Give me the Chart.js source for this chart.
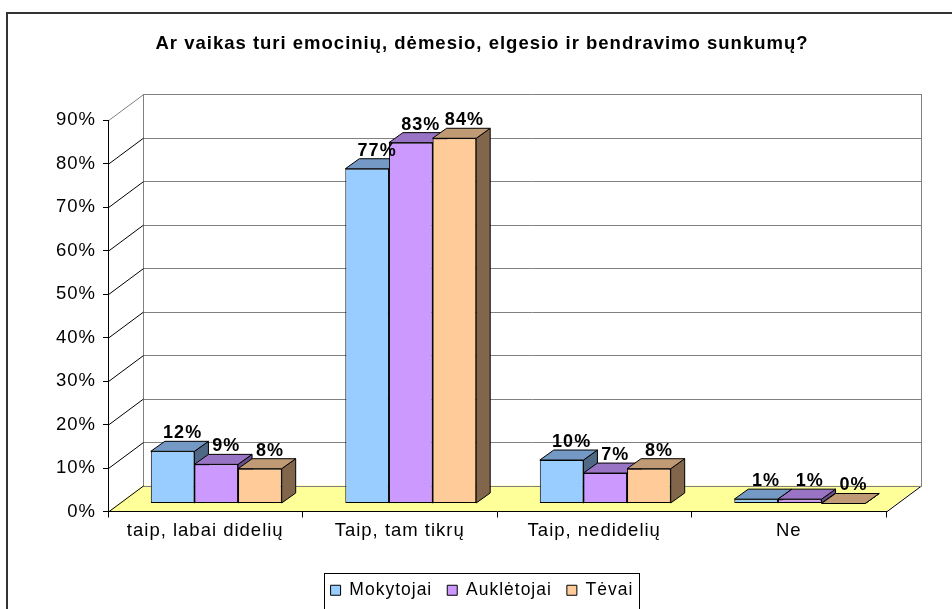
<!DOCTYPE html>
<html><head><meta charset="utf-8">
<script src="https://cdn.jsdelivr.net/npm/chart.js@4.4.1/dist/chart.umd.min.js"></script>
<style>
html,body{margin:0;padding:0;background:#fff;overflow:hidden;width:952px;height:609px}
#wrap{position:relative;width:952px;height:609px;overflow:hidden}
#frame{position:absolute;left:6px;top:12px;width:1000px;height:700px;border:2px solid #333;box-sizing:border-box;pointer-events:none;z-index:2}
canvas{position:absolute;left:0;top:0;z-index:1}
</style></head><body>
<div id="wrap"><div id="frame"></div><canvas id="c" width="952" height="609"></canvas></div>
<script>
// ---- data ----
const chartTitle = 'Ar vaikas turi emocinių, dėmesio, elgesio ir bendravimo sunkumų?';
const categories = ['taip, labai didelių', 'Taip, tam tikrų', 'Taip, nedidelių', 'Ne'];
const seriesNames = ['Mokytojai', 'Auklėtojai', 'Tėvai'];
const mokytojai = [12, 77, 10, 1];
const aukletojai = [9, 83, 7, 1];
const tevai = [8, 84, 8, 0];
const yTickValues = [0, 10, 20, 30, 40, 50, 60, 70, 80, 90];

// ---- styles ----
const FONT = 'Arial, "Liberation Sans", sans-serif';
const frontColors = ['#99CCFF', '#CC99FF', '#FFCC99'];
const topColors = ['#7399C4', '#9A74C4', '#C09A74'];
const sideColors = ['#4E6886', '#684E86', '#82664C'];
const WALL = {dx: 35, dy: -26};
const BAR = {ox: 11, oy: -8, dx: 14, dy: -10};

Chart.defaults.font.family = FONT;

function poly(ctx, pts) {
  ctx.beginPath();
  ctx.moveTo(pts[0][0], pts[0][1]);
  for (let i = 1; i < pts.length; i++) ctx.lineTo(pts[i][0], pts[i][1]);
  ctx.closePath();
}
function line(ctx, x1, y1, x2, y2, color) {
  ctx.beginPath();
  ctx.strokeStyle = color;
  ctx.lineWidth = 1;
  ctx.moveTo(x1, y1); ctx.lineTo(x2, y2);
  ctx.stroke();
}

const threeD = {
  id: 'threeD',
  beforeUpdate(chart) { chart.ctx.letterSpacing = '1px'; },
  beforeLayout(chart) { chart.ctx.letterSpacing = '1px'; },
  beforeDraw(chart) {
    const ctx = chart.ctx;
    ctx.letterSpacing = '1px';
    const {left, right, top, bottom} = chart.chartArea;
    const ys = chart.scales.y;
    const dx = WALL.dx, dy = WALL.dy;
    ctx.save();
    // floor
    poly(ctx, [[left, bottom], [left + dx, bottom + dy], [right + dx, bottom + dy], [right, bottom]]);
    ctx.fillStyle = '#FFFF99';
    ctx.fill();
    line(ctx, right + 0.5, bottom + 0.5, right + dx + 0.5, bottom + dy + 0.5, '#000');
    // back wall gridlines
    yTickValues.forEach(v => {
      const py = Math.round(ys.getPixelForValue(v) + dy) + 0.5;
      line(ctx, left + dx, py, right + dx + 1, py, '#808080');
    });
    const t = Math.round(ys.getPixelForValue(90) + dy) + 0.5;
    const b = Math.round(ys.getPixelForValue(0) + dy) + 0.5;
    line(ctx, left + dx + 0.5, t, left + dx + 0.5, b, '#808080');
    line(ctx, right + dx + 0.5, t, right + dx + 0.5, b, '#808080');
    // side wall diagonals
    yTickValues.forEach(v => {
      const py = ys.getPixelForValue(v);
      line(ctx, left + 0.5, py + 0.5, left + dx + 0.5, py + dy + 0.5, v === 90 ? '#808080' : '#000');
    });
    ctx.restore();
  },
  beforeDatasetsDraw(chart) {
    const ctx = chart.ctx;
    ctx.save();
    ctx.translate(BAR.ox, BAR.oy);
    chart.data.datasets.forEach((ds, di) => {
      const meta = chart.getDatasetMeta(di);
      meta.data.forEach(el => {
        const p = el.getProps(['x', 'y', 'base', 'width'], true);
        const l = p.x - p.width / 2, r = p.x + p.width / 2;
        const yt = Math.min(p.y, p.base), yb = Math.max(p.y, p.base);
        ctx.lineWidth = 1;
        ctx.strokeStyle = '#000';
        ctx.lineJoin = 'miter';
        // side
        poly(ctx, [[r, yt], [r + BAR.dx, yt + BAR.dy], [r + BAR.dx, yb + BAR.dy], [r, yb]]);
        ctx.fillStyle = sideColors[di];
        ctx.fill(); ctx.stroke();
        // top
        poly(ctx, [[l, yt], [l + BAR.dx, yt + BAR.dy], [r + BAR.dx, yt + BAR.dy], [r, yt]]);
        ctx.fillStyle = topColors[di];
        ctx.fill(); ctx.stroke();
      });
    });
  },
  afterDatasetsDraw(chart) {
    const ctx = chart.ctx;
    ctx.restore();
    ctx.save();
    ctx.letterSpacing = '1px';
    ctx.font = 'bold 18px ' + FONT;
    ctx.fillStyle = '#000';
    ctx.textAlign = 'center';
    ctx.textBaseline = 'middle';
    chart.data.datasets.forEach((ds, di) => {
      const meta = chart.getDatasetMeta(di);
      meta.data.forEach((el, i) => {
        const p = el.getProps(['x', 'y', 'base'], true);
        const yt = Math.min(p.y, p.base);
        const lx = p.x + BAR.ox + BAR.dx / 2 + 3;
        const ly = yt + BAR.oy + BAR.dy / 2 - 13;
        ctx.fillText(ds.data[i] + '%', lx, ly);
      });
    });
    ctx.restore();
  },
  afterDraw(chart) {
    const lg = chart.legend;
    if (!lg || !lg.legendHitBoxes || !lg.legendHitBoxes.length) return;
    const hb = lg.legendHitBoxes;
    const ctx = chart.ctx;
    const l = Math.round(hb[0].left - 7) + 0.5;
    const last = hb[hb.length - 1];
    const r = Math.round(last.left + last.width + 6) + 0.5;
    const t = Math.round(hb[0].top - 9) + 0.5;
    ctx.save();
    ctx.strokeStyle = '#000';
    ctx.lineWidth = 1;
    ctx.strokeRect(l, t, r - l, 60);
    ctx.restore();
  }
};

new Chart(document.getElementById('c'), {
  type: 'bar',
  data: {
    labels: categories,
    datasets: [
      {label: seriesNames[0], data: mokytojai, backgroundColor: frontColors[0]},
      {label: seriesNames[1], data: aukletojai, backgroundColor: frontColors[1]},
      {label: seriesNames[2], data: tevai, backgroundColor: frontColors[2]}
    ].map(d => Object.assign(d, {borderColor: '#000', borderWidth: 1, borderSkipped: false, clip: false,
      categoryPercentage: 0.673, barPercentage: 1}))
  },
  options: {
    responsive: false,
    animation: false,
    devicePixelRatio: 1,
    events: [],
    layout: {padding: {left: 12, right: 0, top: 0, bottom: 0}},
    plugins: {
      title: {display: true, text: chartTitle, color: '#000',
        font: {family: FONT, size: 18.5, weight: 'bold'}, padding: {top: 33, bottom: 65}},
      legend: {position: 'bottom',
        labels: {color: '#000', font: {family: FONT, size: 17.5}, boxWidth: 10, boxHeight: 10, padding: 15}},
      tooltip: {enabled: false}
    },
    scales: {
      x: {
        grid: {display: true, drawOnChartArea: false, drawTicks: true, tickLength: 6, color: '#000', offset: true},
        border: {display: true, color: '#000', width: 1},
        ticks: {color: '#000', font: {family: FONT, size: 18.5}, padding: 2, maxRotation: 0, autoSkip: false},
        afterFit(s) { s.height = 55; }
      },
      y: {
        min: 0, max: 90,
        grid: {display: true, drawOnChartArea: false, drawTicks: true, tickLength: 5, color: '#000'},
        border: {display: true, color: '#000', width: 1},
        ticks: {stepSize: 10, color: '#000', font: {family: FONT, size: 18.5}, padding: 7,
          callback: v => v + '%'},
        afterFit(s) { s.width = 96; }
      },
      yRight: {
        type: 'linear', position: 'right', display: true,
        grid: {display: false}, border: {display: false}, ticks: {display: false},
        afterFit(s) { s.width = 66; }
      }
    }
  },
  plugins: [threeD]
});
</script>
</body></html>
